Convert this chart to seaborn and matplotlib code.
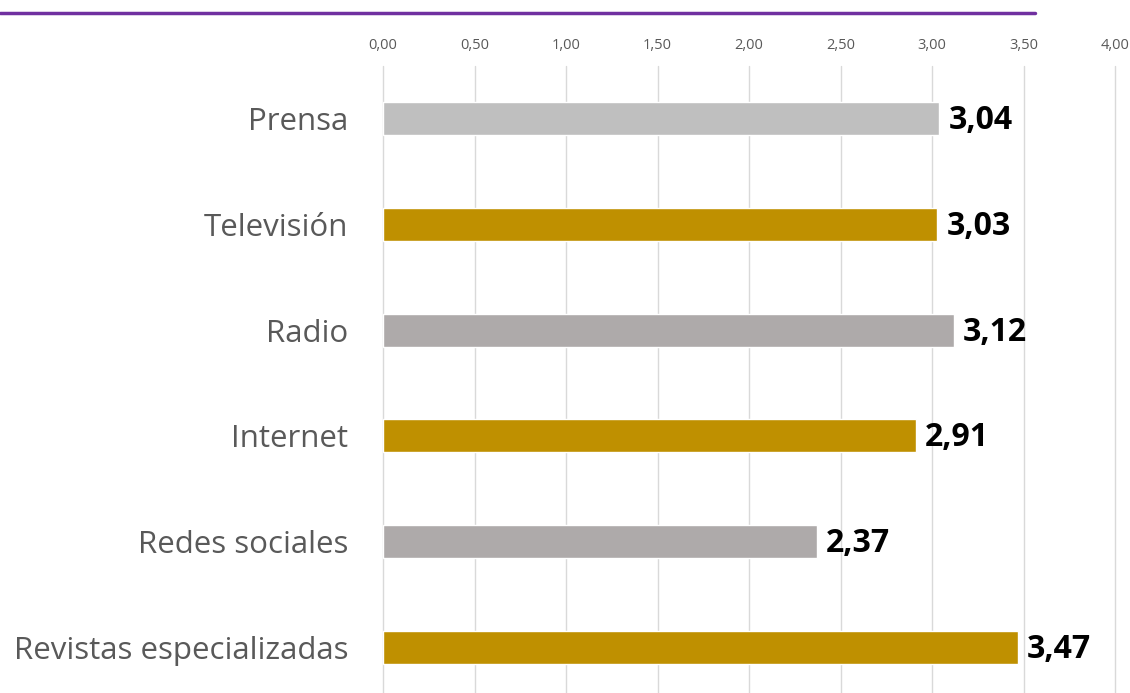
import matplotlib
matplotlib.use("Agg")
import matplotlib.pyplot as plt
from matplotlib.lines import Line2D
import seaborn as sns
import pandas as pd

categories = ["Prensa", "Televisión", "Radio", "Internet", "Redes sociales",
              "Revistas especializadas"]
values = [3.04, 3.03, 3.12, 2.91, 2.37, 3.47]
bar_colors = ["#BFBFBF", "#BF9000", "#AEAAAA", "#BF9000", "#AEAAAA", "#BF9000"]
x_ticks = [0.0, 0.5, 1.0, 1.5, 2.0, 2.5, 3.0, 3.5, 4.0]

sns.set_theme(style="white")
plt.rcParams["font.family"] = ["Open Sans", "DejaVu Sans"]

df = pd.DataFrame({"medio": categories, "valor": values})

W, H = 1130, 693
fig = plt.figure(figsize=(W / 100, H / 100), dpi=100)
ax = fig.add_axes([383 / W, 1 - 700 / H, (1115 - 383) / W, (700 - 66) / H])

sns.barplot(data=df, x="valor", y="medio", hue="medio", order=categories,
            palette=dict(zip(categories, bar_colors)), legend=False,
            width=0.31, orient="h", ax=ax, saturation=1)

ax.set_xlim(0, 4.0)
ax.set_xticks(x_ticks)
ax.set_xticklabels([f"{t:.2f}".replace(".", ",") for t in x_ticks])
ax.xaxis.tick_top()
ax.tick_params(axis="x", labelsize=10.5, colors="#595959", length=0, pad=9.5)
ax.tick_params(axis="y", labelsize=22.5, colors="#595959", length=0, pad=25)
ax.set_xlabel("")
ax.set_ylabel("")
ax.grid(axis="x", color="#D9D9D9", linewidth=1)
for gl in ax.get_xgridlines():
    gl.set_clip_on(False)
ax.set_axisbelow(True)
for s in ax.spines.values():
    s.set_visible(False)

for i, v in enumerate(values):
    ax.text(v + 0.05, i + 0.02, f"{v:.2f}".replace(".", ","), va="center", ha="left",
            fontsize=23, fontweight="bold", color="black")

# purple rule across the top
fig.add_artist(Line2D([0, 1035 / W], [1 - 13 / H, 1 - 13 / H],
                      color="#7030A0", linewidth=2.5, transform=fig.transFigure))

fig.savefig("out.png", dpi=100)
